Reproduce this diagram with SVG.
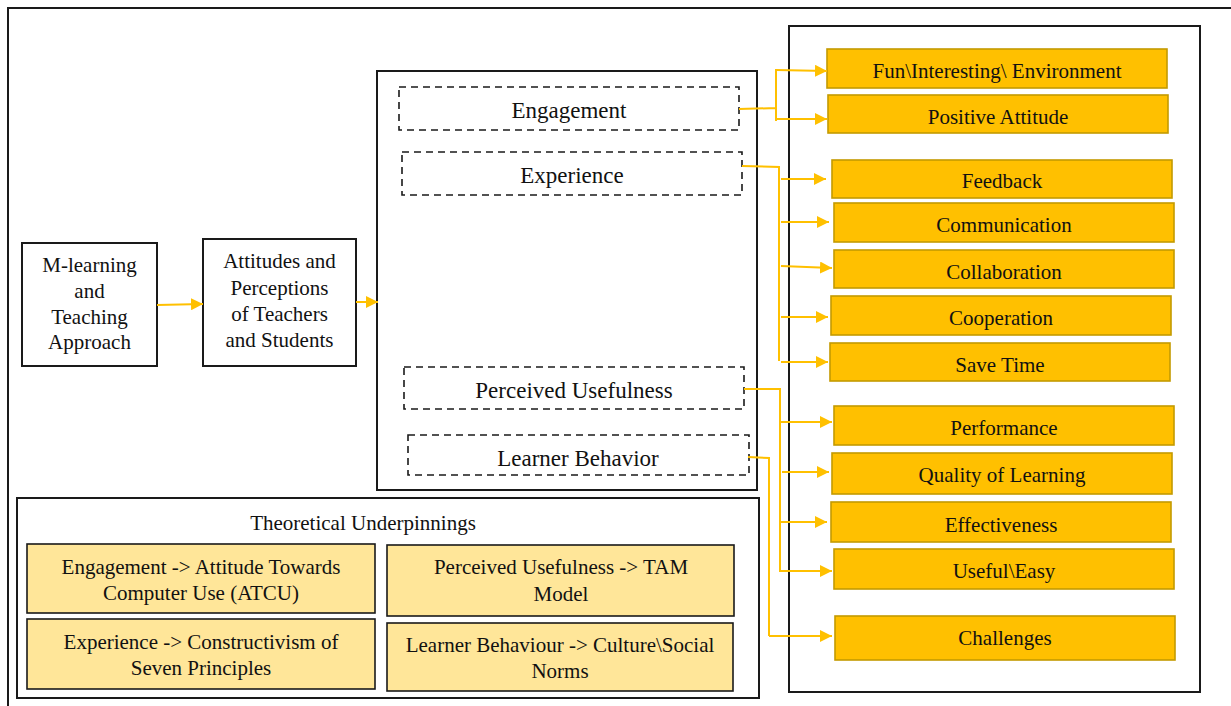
<svg xmlns="http://www.w3.org/2000/svg" width="1231" height="706" viewBox="0 0 1231 706">
<style>
text{font-family:"Liberation Serif","Times New Roman",serif;fill:#111;text-anchor:middle}
.t21{font-size:21px}
.t23{font-size:23px}
.frame{fill:none;stroke:#1a1a1a;stroke-width:2}
.box{fill:#fff;stroke:#1a1a1a;stroke-width:2}
.dash{fill:#fff;stroke:#1a1a1a;stroke-width:1.6;stroke-dasharray:7 5}
.gold{fill:#FFC000;stroke:#C49A00;stroke-width:1.6}
.light{fill:#FFE699;stroke:#1a1a1a;stroke-width:1.6}
.con{fill:none;stroke:#FFC000;stroke-width:2}
</style>
<defs>
<marker id="ah" markerWidth="12" markerHeight="12" refX="12" refY="6" orient="auto" markerUnits="userSpaceOnUse">
<path d="M0,0 L12,6 L0,12 Z" fill="#FFC000"/>
</marker>
</defs>
<rect width="1231" height="706" fill="#fff"/>
<g id="outer-frame">
<path class="frame" d="M8,706 V8 H1231"/>
</g>
<g id="right-panel"><rect class="box" x="789" y="26" width="411" height="666"/></g>
<g id="middle-panel"><rect class="box" x="377" y="71" width="380" height="419"/></g>

<g id="m-learning">
<rect class="box" x="22" y="243" width="135" height="123"/>
<text class="t21" x="89.5" y="272">M-learning</text>
<text class="t21" x="89.5" y="298">and</text>
<text class="t21" x="89.5" y="324">Teaching</text>
<text class="t21" x="89.5" y="349">Approach</text>
</g>
<g id="attitudes">
<rect class="box" x="203" y="239" width="153" height="127"/>
<text class="t21" x="279.5" y="268">Attitudes and</text>
<text class="t21" x="279.5" y="295">Perceptions</text>
<text class="t21" x="279.5" y="321">of Teachers</text>
<text class="t21" x="279.5" y="347">and Students</text>
</g>

<g id="engagement"><rect class="dash" x="399" y="87" width="340" height="43"/><text class="t23" x="569" y="118">Engagement</text></g>
<g id="experience"><rect class="dash" x="402" y="152" width="340" height="43"/><text class="t23" x="572" y="183">Experience</text></g>
<g id="perceived-usefulness"><rect class="dash" x="404" y="367" width="340" height="42"/><text class="t23" x="574" y="398">Perceived Usefulness</text></g>
<g id="learner-behavior"><rect class="dash" x="408" y="435" width="341" height="40"/><text class="t23" x="578" y="466">Learner Behavior</text></g>

<g id="fun"><rect class="gold" x="827" y="49" width="340" height="39"/><text class="t21" x="997" y="78">Fun\Interesting\ Environment</text></g>
<g id="positive-attitude"><rect class="gold" x="828" y="95" width="340" height="38"/><text class="t21" x="998" y="124">Positive Attitude</text></g>
<g id="feedback"><rect class="gold" x="832" y="160" width="340" height="38"/><text class="t21" x="1002" y="188">Feedback</text></g>
<g id="communication"><rect class="gold" x="834" y="203" width="340" height="39"/><text class="t21" x="1004" y="232">Communication</text></g>
<g id="collaboration"><rect class="gold" x="834" y="250" width="340" height="38"/><text class="t21" x="1004" y="279">Collaboration</text></g>
<g id="cooperation"><rect class="gold" x="831" y="296" width="340" height="39"/><text class="t21" x="1001" y="325">Cooperation</text></g>
<g id="save-time"><rect class="gold" x="830" y="343" width="340" height="38"/><text class="t21" x="1000" y="372">Save Time</text></g>
<g id="performance"><rect class="gold" x="834" y="406" width="340" height="39"/><text class="t21" x="1004" y="435">Performance</text></g>
<g id="quality"><rect class="gold" x="832" y="453" width="340" height="41"/><text class="t21" x="1002" y="482">Quality of Learning</text></g>
<g id="effectiveness"><rect class="gold" x="831" y="502" width="340" height="40"/><text class="t21" x="1001" y="532">Effectiveness</text></g>
<g id="useful-easy"><rect class="gold" x="834" y="549" width="340" height="40"/><text class="t21" x="1004" y="578">Useful\Easy</text></g>
<g id="challenges"><rect class="gold" x="835" y="616" width="340" height="44"/><text class="t21" x="1005" y="645">Challenges</text></g>

<g id="theory">
<rect class="box" x="17" y="498" width="742" height="200"/>
<text class="t21" x="363" y="530">Theoretical Underpinnings</text>
<g id="theory-atcu"><rect class="light" x="27" y="544" width="348" height="69"/>
<text class="t21" x="201" y="574">Engagement -&gt; Attitude Towards</text>
<text class="t21" x="201" y="600">Computer Use (ATCU)</text></g>
<g id="theory-tam"><rect class="light" x="387" y="545" width="347" height="71"/>
<text class="t21" x="561" y="574">Perceived Usefulness -&gt; TAM</text>
<text class="t21" x="561" y="601">Model</text></g>
<g id="theory-constructivism"><rect class="light" x="27" y="619" width="348" height="70"/>
<text class="t21" x="201" y="649">Experience -&gt; Constructivism of</text>
<text class="t21" x="201" y="675">Seven Principles</text></g>
<g id="theory-culture"><rect class="light" x="387" y="623" width="346" height="68"/>
<text class="t21" x="560" y="652">Learner Behaviour -&gt; Culture\Social</text>
<text class="t21" x="560" y="678">Norms</text></g>
</g>

<g id="connectors">
<path class="con" marker-end="url(#ah)" d="M157,305 L203,304"/>
<path class="con" marker-end="url(#ah)" d="M356,302 L378,302"/>
<path class="con" d="M739,109 L776,108 M776,69 V121"/>
<path class="con" marker-end="url(#ah)" d="M776,70 L827,71"/>
<path class="con" marker-end="url(#ah)" d="M776,119 L827,119"/>
<path class="con" d="M742,166 L779,167 V361"/>
<path class="con" marker-end="url(#ah)" d="M781,179 L826,179"/>
<path class="con" marker-end="url(#ah)" d="M781,222 L829,222"/>
<path class="con" marker-end="url(#ah)" d="M781,266 L832,268"/>
<path class="con" marker-end="url(#ah)" d="M781,317 L828,317"/>
<path class="con" marker-end="url(#ah)" d="M781,362 L828,362"/>
<path class="con" d="M744,389 L780,389 V572"/>
<path class="con" marker-end="url(#ah)" d="M780,422 L832,422"/>
<path class="con" marker-end="url(#ah)" d="M782,472 L829,472"/>
<path class="con" marker-end="url(#ah)" d="M780,522 L827,522"/>
<path class="con" marker-end="url(#ah)" d="M780,571 L832,571"/>
<path class="con" d="M748,457 L769,458 V636"/>
<path class="con" marker-end="url(#ah)" d="M769,636 L832,636"/>
</g>
</svg>
